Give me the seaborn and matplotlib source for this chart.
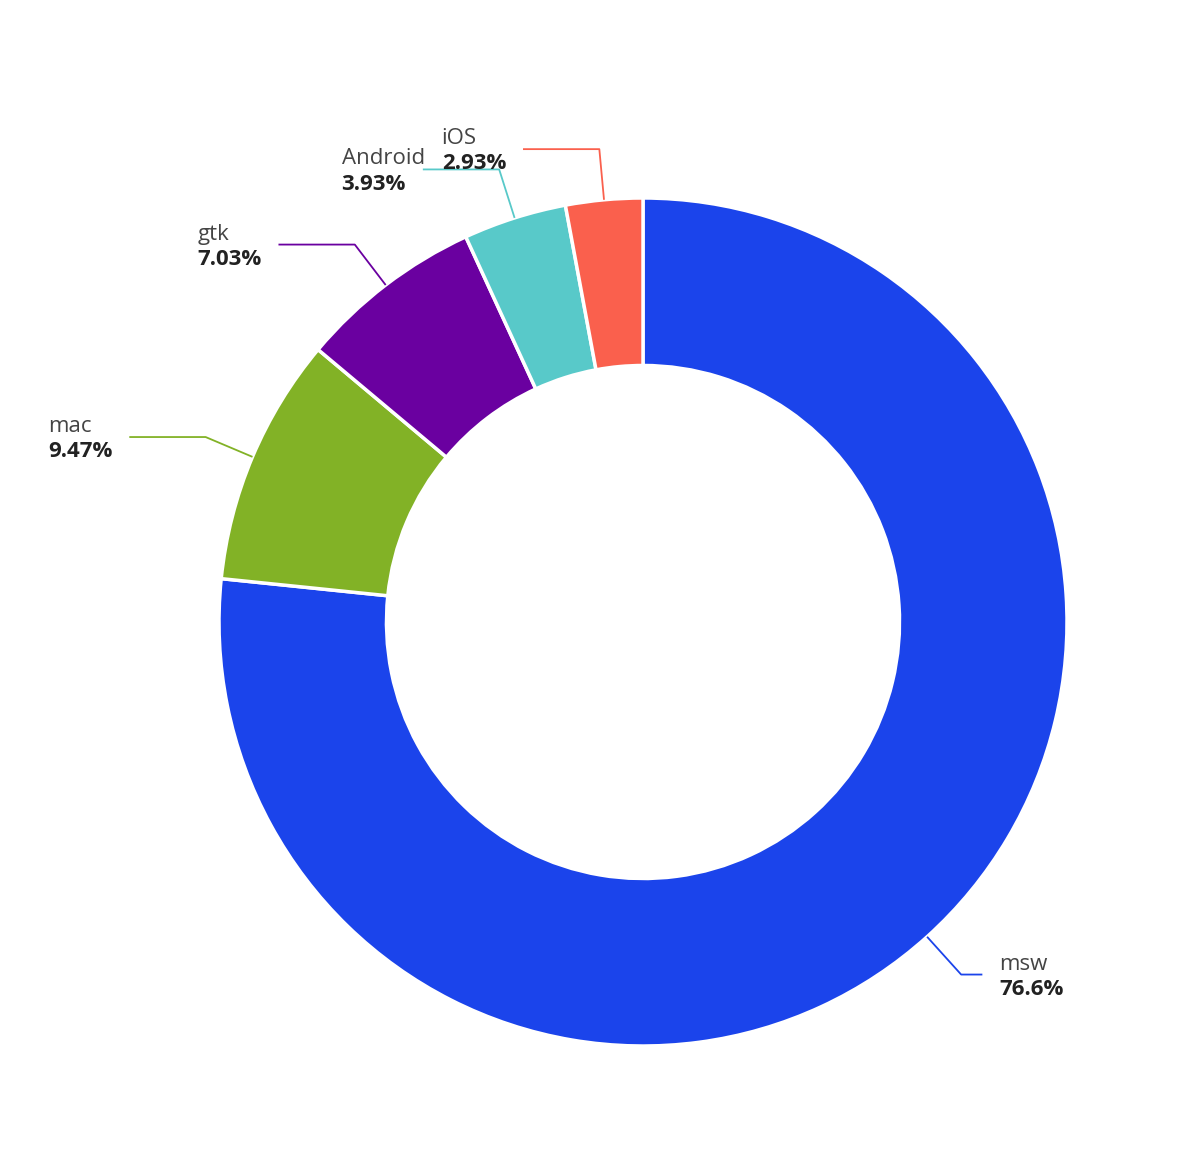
import numpy as np
import matplotlib
matplotlib.use("Agg")
import matplotlib.pyplot as plt
import seaborn as sns

labels = ["msw", "mac", "gtk", "Android", "iOS"]
shares = [76.6, 9.47, 7.03, 3.93, 2.93]
pct_text = ["76.6%", "9.47%", "7.03%", "3.93%", "2.93%"]
colors = ["#1b44eb", "#82b226", "#6a00a0", "#58c9c9", "#fa604d"]

sns.set_theme(style="white")
plt.rcParams['font.family'] = ['Open Sans', 'DejaVu Sans']

W, H = 1200, 1164
cx, cy, R = 643, 622, 424
fig = plt.figure(figsize=(W / 100, H / 100), dpi=100)
ax = fig.add_axes([0, 0, 1, 1])

wedges, _ = ax.pie(shares, colors=colors, startangle=90, counterclock=False,
                   radius=1.0, wedgeprops=dict(width=0.395, edgecolor="white", linewidth=2.5))
ax.set_xlim(-cx / R, (W - cx) / R)
ax.set_ylim(-(H - cy) / R, cy / R)
ax.set_aspect("equal")
ax.axis("off")

fig.canvas.draw()
renderer = fig.canvas.get_renderer()
total = sum(shares)
cum = 0
for lab, s, p, c in zip(labels, shares, pct_text, colors):
    mid = (cum + s / 2) / total
    cum += s
    ang = np.deg2rad(90 - 360 * mid)
    x0, y0 = np.cos(ang), np.sin(ang)
    x1, y1 = np.cos(ang) * 1.12, np.sin(ang) * 1.12
    side = 1 if x1 >= 0 else -1
    x2 = x1 + side * (0.05 if side > 0 else 0.18)
    ax.plot([x0, x1, x2], [y0, y1, y1], color=c, lw=1.3, solid_capstyle="butt")
    tx = x2 + side * 0.04
    ha = "left" if side > 0 else "right"
    pt = ax.text(tx, y1 - 0.01, p, ha=ha, va="top", fontsize=16,
                 color="#222222", fontweight="bold")
    if side < 0:
        bb = pt.get_window_extent(renderer).transformed(ax.transData.inverted())
        nx = bb.x0
    else:
        nx = tx
    ax.text(nx, y1 + 0.0, lab, ha="left", va="bottom", fontsize=16, color="#444444")

fig.savefig("out.png", dpi=100, facecolor="white")
